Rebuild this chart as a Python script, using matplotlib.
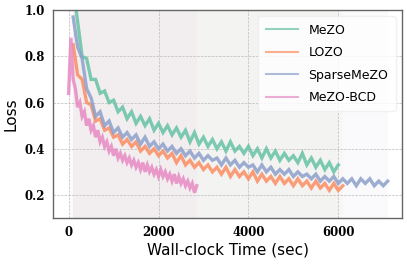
import numpy as np
import matplotlib
matplotlib.use('Agg')
import matplotlib.pyplot as plt

# ---------------------------------------------------------------------------
# loss curves (sec, loss)
t_mezo = np.arange(100, 6001, 100)
loss_mezo = [1.10, 0.95, 0.80, 0.79, 0.70, 0.70, 0.64, 0.65, 0.60, 0.61,
             0.56, 0.58, 0.53, 0.56, 0.51, 0.54, 0.50, 0.53, 0.48, 0.51,
             0.47, 0.50, 0.46, 0.49, 0.45, 0.48, 0.43, 0.47, 0.42, 0.45,
             0.41, 0.44, 0.40, 0.43, 0.39, 0.43, 0.39, 0.41, 0.38, 0.41,
             0.37, 0.40, 0.36, 0.40, 0.36, 0.39, 0.35, 0.38, 0.35, 0.37,
             0.34, 0.38, 0.33, 0.36, 0.32, 0.35, 0.31, 0.34, 0.30, 0.33]

t_lozo = np.arange(100, 6101, 100)
loss_lozo = [0.85, 0.72, 0.70, 0.60, 0.59, 0.52, 0.53, 0.48, 0.49, 0.45,
             0.46, 0.42, 0.44, 0.41, 0.43, 0.39, 0.41, 0.38, 0.40, 0.37,
             0.39, 0.36, 0.38, 0.34, 0.37, 0.33, 0.35, 0.32, 0.34, 0.31,
             0.33, 0.30, 0.32, 0.29, 0.32, 0.28, 0.31, 0.28, 0.30, 0.27,
             0.30, 0.26, 0.29, 0.26, 0.28, 0.25, 0.28, 0.25, 0.27, 0.24,
             0.27, 0.24, 0.26, 0.23, 0.26, 0.23, 0.25, 0.22, 0.25, 0.22,
             0.24]

t_sparse = np.arange(100, 7101, 100)
loss_sparse = [0.97, 0.84, 0.79, 0.66, 0.62, 0.54, 0.56, 0.50, 0.52, 0.47,
               0.49, 0.45, 0.47, 0.44, 0.46, 0.42, 0.45, 0.41, 0.43, 0.40,
               0.42, 0.39, 0.41, 0.38, 0.40, 0.37, 0.39, 0.36, 0.38, 0.35,
               0.37, 0.35, 0.36, 0.33, 0.36, 0.33, 0.35, 0.32, 0.34, 0.32,
               0.33, 0.30, 0.33, 0.30, 0.32, 0.29, 0.31, 0.29, 0.31, 0.28,
               0.30, 0.28, 0.29, 0.27, 0.29, 0.26, 0.28, 0.26, 0.28, 0.25,
               0.27, 0.25, 0.27, 0.24, 0.27, 0.25, 0.27, 0.24, 0.26, 0.24,
               0.26]

t_bcd = np.arange(0, 2851, 50)
loss_bcd = [0.64, 0.88, 0.70, 0.66, 0.58, 0.60, 0.54, 0.56, 0.50, 0.53,
            0.48, 0.50, 0.45, 0.48, 0.43, 0.45, 0.41, 0.43, 0.39, 0.41,
            0.37, 0.40, 0.36, 0.38, 0.35, 0.37, 0.34, 0.36, 0.33, 0.35,
            0.32, 0.34, 0.31, 0.34, 0.30, 0.33, 0.30, 0.32, 0.29, 0.31,
            0.28, 0.31, 0.28, 0.30, 0.27, 0.29, 0.26, 0.29, 0.25, 0.28,
            0.25, 0.27, 0.24, 0.26, 0.23, 0.25, 0.21, 0.24]

names = ['MeZO', 'LOZO', 'SparseMeZO', 'MeZO-BCD']
colors = ['#66c2a5', '#fc8d62', '#8da0cb', '#e78ac3']
#-------------------------------------------------------------------------------------

fig = plt.figure(figsize=(4.07, 2.65), dpi=100)
ax = fig.add_axes([0.130, 0.177, 0.858, 0.785])

series = [(t_mezo, loss_mezo), (t_lozo, loss_lozo),
          (t_sparse, loss_sparse), (t_bcd, loss_bcd)]

# faint raw-data haze behind the curves
for (t, y), c in zip(series, colors):
    ax.fill_between(t, 0.1, 1.0, color=c, alpha=0.045, lw=0)

for (t, y), c, n in zip(series, colors, names):
    ax.plot(t, y, color=c, lw=2.4, alpha=0.85, label=n,
            solid_joinstyle='miter')

ax.set_xlim(-350, 7420)
ax.set_ylim(0.1, 1.0)
ax.set_xticks([0, 2000, 4000, 6000])
ax.set_yticks([0.2, 0.4, 0.6, 0.8, 1.0])
ax.tick_params(length=0, pad=6)
for lab in ax.get_xticklabels() + ax.get_yticklabels():
    lab.set_family('DejaVu Serif')
    lab.set_fontweight('bold')
    lab.set_fontsize(8.5)
ax.grid(color='#bbbbbb', linestyle='--', linewidth=0.5)
for s in ax.spines.values():
    s.set_color('#666666')
    s.set_linewidth(1.0)

ax.set_xlabel('Wall-clock Time (sec)', fontsize=11, labelpad=2)
ax.set_ylabel('Loss', fontsize=11, labelpad=4)

leg = ax.legend(loc='upper right', fontsize=9, handlelength=2.6,
                frameon=True, framealpha=0.8, edgecolor='#eeeeee',
                borderpad=0.6, labelspacing=0.75)
for h in leg.get_lines():
    h.set_alpha(0.7)
    h.set_linewidth(1.5)

fig.savefig('out.png', dpi=100)
